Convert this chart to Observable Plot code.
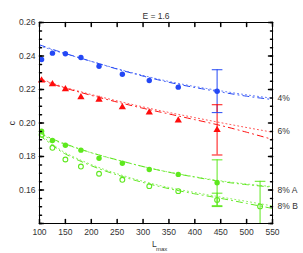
<!DOCTYPE html>
<html><head><meta charset="utf-8">
<script src="https://cdn.jsdelivr.net/npm/d3@7"></script>
<script src="https://cdn.jsdelivr.net/npm/@observablehq/plot@0.6"></script>
<style>body{margin:0;background:#fff}</style>
</head><body><div id="chart"></div>
<script>
const title = "E = 1.6";
const Lmax = [104, 125, 150, 180, 215, 260, 312, 368, 443];
const c4 = [0.2379, 0.2417, 0.2413, 0.2391, 0.2339, 0.2291, 0.2254, 0.2214, 0.2190];
const c6 = [0.2254, 0.2232, 0.2202, 0.2154, 0.2140, 0.2094, 0.2063, 0.2015, 0.1959];
const c8A = [0.1951, 0.1896, 0.1867, 0.1838, 0.1790, 0.1760, 0.1722, 0.1693, 0.1643];
const c8B = [0.1930, 0.1852, 0.1782, 0.1740, 0.1697, 0.1661, 0.1623, 0.1593, 0.1541];
const extraB = {x: 526, y: 0.1502};
const errX = [443, 443, 443, 443, 526];
const errY = [0.2190, 0.1959, 0.1643, 0.1541, 0.1502];
const errD = [0.0128, 0.0150, 0.0137, 0.0040, 0.0150];
const errS = ["4%", "6%", "8% A", "8% B", "8% B"];
const fitX = [100, 125, 150, 200, 250, 300, 350, 400, 450, 500, 550];
const fit4a = [0.2467,0.2440,0.2415,0.2368,0.2322,0.2280,0.2243,0.2212,0.2185,0.2160,0.2140];
const fit4b = [0.2460,0.2436,0.2413,0.2368,0.2324,0.2284,0.2248,0.2218,0.2192,0.2168,0.2148];
const fit6a = [0.2260,0.2233,0.2208,0.2165,0.2125,0.2088,0.2054,0.2020,0.1985,0.1945,0.1902];
const fit6b = [0.2265,0.2238,0.2212,0.2170,0.2132,0.2096,0.2063,0.2032,0.2002,0.1973,0.1945];
const fit8Aa = [0.1940,0.1905,0.1875,0.1823,0.1780,0.1740,0.1706,0.1677,0.1651,0.1632,0.1617];
const fit8Ab = [0.1935,0.1900,0.1872,0.1822,0.1779,0.1740,0.1707,0.1679,0.1655,0.1636,0.1620];
const fit8Ba = [0.1925,0.1868,0.1815,0.1745,0.1690,0.1645,0.1608,0.1577,0.1550,0.1520,0.1490];
const fit8Bb = [0.1930,0.1875,0.1822,0.1752,0.1697,0.1652,0.1615,0.1585,0.1558,0.1532,0.1505];
const seriesNames = ["4%", "6%", "8% A", "8% B"];
const seriesColors = ["#2448f5", "#ff0c0c", "#5ee81e", "#5ee81e"];
const labelY = [0.2148, 0.1949, 0.1600, 0.1501];
const xTicks = [100, 150, 200, 250, 300, 350, 400, 450, 500, 550];
const yTicks = [0.16, 0.18, 0.20, 0.22, 0.24, 0.26];
const yMinor = d3.range(0, 25).map(i => 0.14 + i * 0.005);

const color = Object.fromEntries(seriesNames.map((s, i) => [s, seriesColors[i]]));
const pts = (ys, s) => Lmax.map((x, i) => ({x, y: ys[i], s}));
const fit = (ys) => fitX.map((x, i) => ({x, y: ys[i]}));
const errs = errX.map((x, i) => ({x, y: errY[i], lo: errY[i] - errD[i], hi: errY[i] + errD[i], s: errS[i]}));
const capSym = {draw(ctx, size) { const w = Math.sqrt(size); ctx.moveTo(-w, 0); ctx.lineTo(w, 0); }};
const tickShape = {draw(ctx, l) { ctx.moveTo(0, 0); ctx.lineTo(0, -l); }};
const font = "Liberation Sans, Arial, sans-serif";
const ink = "#333";

const dashA = "6,4,1,4";
const dashB = "1,3";
const lineMarks = [];
[[fit4a, fit4b, "4%"], [fit6a, fit6b, "6%"], [fit8Aa, fit8Ab, "8% A"], [fit8Ba, fit8Bb, "8% B"]].forEach(([a, b, s]) => {
  lineMarks.push(Plot.line(fit(a), {x: "x", y: "y", stroke: color[s], strokeWidth: 1, strokeDasharray: dashA, curve: "natural"}));
  lineMarks.push(Plot.line(fit(b), {x: "x", y: "y", stroke: color[s], strokeWidth: 1, strokeDasharray: dashB, curve: "natural", strokeOpacity: 0.75}));
});

const chart = Plot.plot({
  width: 303, height: 253,
  marginLeft: 39, marginRight: 31, marginTop: 22, marginBottom: 30,
  style: {fontFamily: font, fontSize: "8.5px", background: "#fff", color: ink},
  x: {domain: [100, 550]},
  y: {domain: [0.14, 0.26]},
  marks: [
    ...lineMarks,
    Plot.ruleX(errs, {x: "x", y1: "lo", y2: "hi", stroke: d => color[d.s], strokeWidth: 1, clip: true}),
    Plot.dot(errs.flatMap(d => [{x: d.x, y: d.lo, s: d.s}, {x: d.x, y: d.hi, s: d.s}]), {x: "x", y: "y", symbol: capSym, r: 3, stroke: d => color[d.s], strokeWidth: 1, clip: true}),
    Plot.dot(pts(c4, "4%"), {x: "x", y: "y", r: 2.7, fill: color["4%"], symbol: "circle"}),
    Plot.dot(pts(c6, "6%"), {x: "x", y: "y", r: 2.7, fill: color["6%"], symbol: "triangle"}),
    Plot.dot(pts(c8A, "8% A"), {x: "x", y: "y", r: 2.7, fill: color["8% A"], symbol: "circle"}),
    Plot.dot([...pts(c8B, "8% B"), extraB], {x: "x", y: "y", r: 2.4, stroke: color["8% B"], strokeWidth: 1.1, fill: "none", symbol: "circle"}),
    Plot.frame({stroke: "#000", strokeWidth: 1}),
    Plot.vector(yTicks.concat([0.14]), {y: d => d, frameAnchor: "left", rotate: 90, length: 4, anchor: "start", shape: tickShape, stroke: "#000"}),
    Plot.vector(yTicks.concat([0.14]), {y: d => d, frameAnchor: "right", rotate: -90, length: 4, anchor: "start", shape: tickShape, stroke: "#000"}),
    Plot.vector(yMinor, {y: d => d, frameAnchor: "left", rotate: 90, length: 2, anchor: "start", shape: tickShape, stroke: "#000"}),
    Plot.vector(yMinor, {y: d => d, frameAnchor: "right", rotate: -90, length: 2, anchor: "start", shape: tickShape, stroke: "#000"}),
    Plot.vector(xTicks, {x: d => d, frameAnchor: "bottom", rotate: 0, length: 4, anchor: "start", shape: tickShape, stroke: "#000"}),
    Plot.vector(xTicks, {x: d => d, frameAnchor: "top", rotate: 180, length: 4, anchor: "start", shape: tickShape, stroke: "#000"}),
    Plot.axisY(yTicks, {tickSize: 0, tickPadding: 4, tickFormat: d3.format(".2f"), label: "c", labelAnchor: "center", labelArrow: "none", labelOffset: 31}),
    Plot.axisX(xTicks, {tickSize: 0, tickPadding: 5, label: null}),
    Plot.text(seriesNames.map((s, i) => ({s, y: labelY[i]})), {x: 550, y: "y", text: "s", textAnchor: "start", dx: 5, fill: ink}),
    Plot.text([title], {frameAnchor: "top", dy: -10, fill: ink}),
    Plot.text(["L"], {frameAnchor: "bottom", dx: -4, dy: 23, fill: ink, textAnchor: "start"}),
    Plot.text(["max"], {frameAnchor: "bottom", dx: 0, dy: 27, fill: ink, textAnchor: "start", fontSize: 6})
  ]
});
document.getElementById("chart").appendChild(chart);
</script></body></html>
